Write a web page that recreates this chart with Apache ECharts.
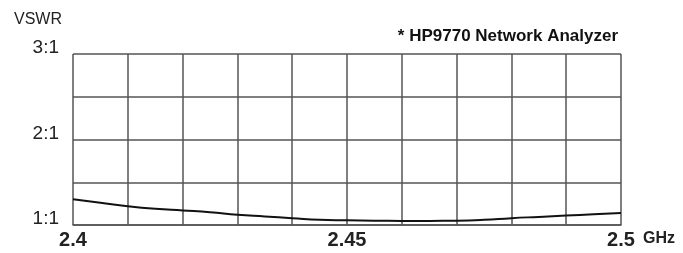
<!DOCTYPE html>
<html><head><meta charset="utf-8">
<script src="https://cdn.jsdelivr.net/npm/echarts@6/dist/echarts.min.js"></script>
<style>html,body{margin:0;padding:0;background:#fff}#c{width:683px;height:253px}</style>
</head><body><div id="c"></div>
<script>
var freqs = [2.400,2.405,2.410,2.415,2.420,2.425,2.430,2.435,2.440,2.445,2.450,2.455,2.460,2.465,2.470,2.475,2.480,2.485,2.490,2.495,2.500];
var vswr  = [1.30,1.26,1.22,1.19,1.17,1.15,1.12,1.10,1.08,1.06,1.055,1.05,1.048,1.048,1.05,1.06,1.08,1.095,1.11,1.125,1.14];
var xTickLabels = {"2400":"2.4","2450":"2.45","2500":"2.5"};
var yTickLabels = {"1":"1:1","2":"2:1","3":"3:1"};
var titleText = "* HP9770 Network Analyzer";
var FONT = "Liberation Sans, Arial, sans-serif";
var chart = echarts.init(document.getElementById('c'), null, {renderer:'canvas'});
chart.setOption({
  animation:false,
  title:{text:titleText,right:60,top:23,textStyle:{fontFamily:FONT,fontSize:17,fontWeight:'bold',color:'#111'}},
  grid:{left:73,right:62,top:54,bottom:28},
  xAxis:{type:'value',min:2.4,max:2.5,interval:0.01,
    name:'GHz',nameLocation:'end',nameGap:22,
    nameTextStyle:{fontFamily:FONT,fontSize:16,fontWeight:'bold',color:'#222',verticalAlign:'top',padding:[6,0,0,0]},
    axisLine:{show:true,lineStyle:{color:'#555',width:1.5}},
    axisTick:{show:false},
    splitLine:{show:true,lineStyle:{color:'#555',width:1.5}},
    axisLabel:{fontFamily:FONT,fontSize:20,fontWeight:'bold',color:'#222',margin:5,
      formatter:function(v){var k=String(Math.round(v*1000));return xTickLabels[k]||'';}}
  },
  yAxis:{type:'value',min:1,max:3,interval:0.5,
    name:'VSWR',nameLocation:'end',nameGap:26,
    nameTextStyle:{fontFamily:FONT,fontSize:16,color:'#222',align:'right',padding:[0,11,0,0]},
    axisLine:{show:false},axisTick:{show:false},
    splitLine:{show:true,lineStyle:{color:'#555',width:1.5}},
    axisLabel:{fontFamily:FONT,fontSize:19,color:'#222',margin:14,verticalAlign:'bottom',lineHeight:12,
      formatter:function(v){var k=String(Math.round(v*10)/10);return yTickLabels[k]||'';}}
  },
  series:[{type:'line',data:freqs.map(function(f,i){return [f,vswr[i]];}),
    smooth:true,showSymbol:false,lineStyle:{color:'#111',width:2}}]
});
</script></body></html>
